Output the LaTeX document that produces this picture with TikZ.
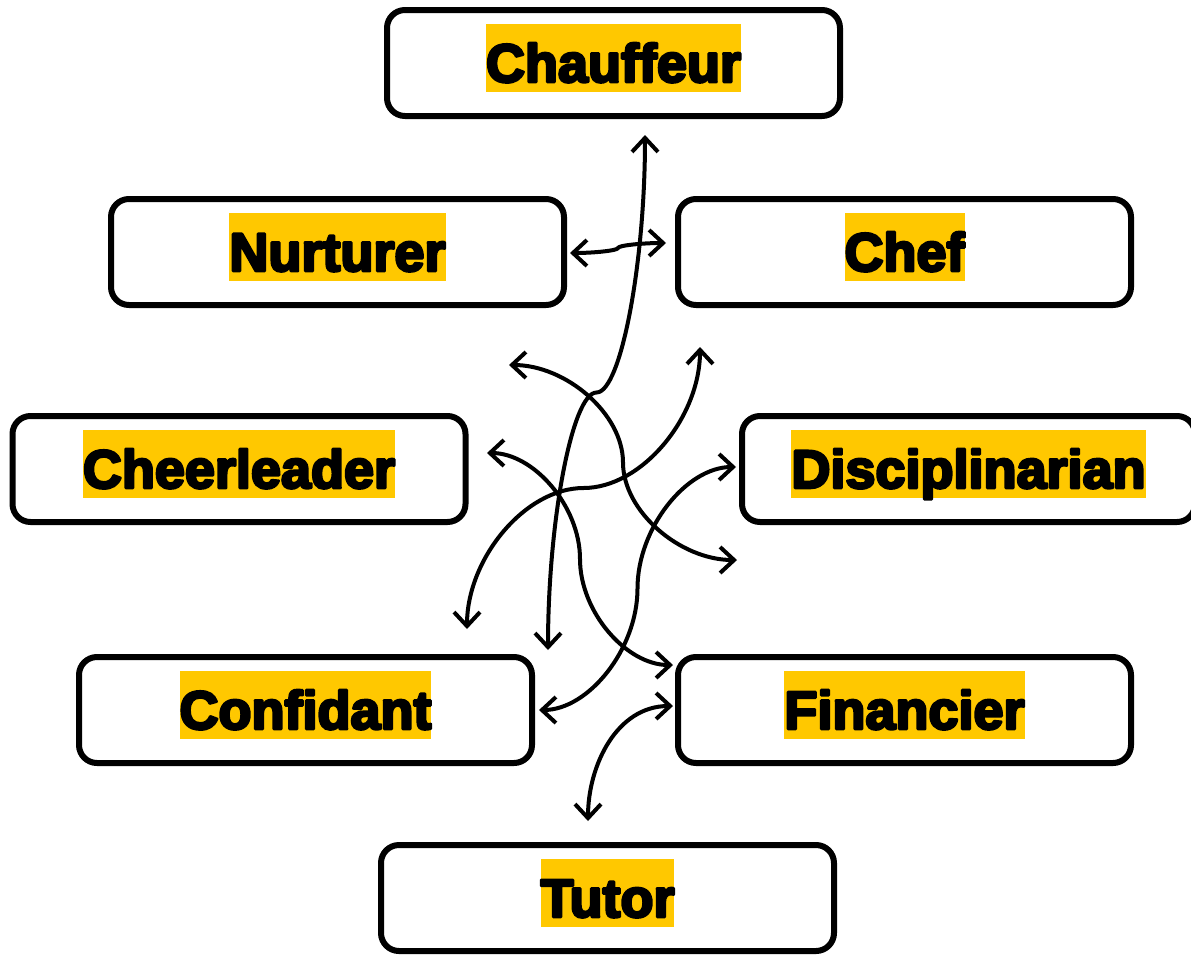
\documentclass[tikz,border=0pt]{standalone}
\usepackage{fontspec}
\usetikzlibrary{arrows.meta,calc}
\newfontfamily\heavyfont{Liberation Sans Bold}[RawFeature={embolden=5}]
\definecolor{mark}{RGB}{255,200,0}
\tikzset{
  box/.style={draw, line width=6pt, rounded corners=18pt, fill=white, minimum width=453pt, minimum height=106pt, inner sep=0pt},
  tag/.style={fill=mark, inner sep=0pt, text height=58pt, text depth=10pt, yshift=5pt, font=\heavyfont\fontsize{54}{60}\selectfont},
  link/.style={line width=4pt, <->},
  % horizontal at both ends, vertical in the middle
  hv/.style={to path={let \p1=(\tikztostart), \p2=(\tikztotarget) in
    .. controls ({0.75*\x1+0.25*\x2},\y1) and ({0.5*\x1+0.5*\x2},{0.75*\y1+0.25*\y2})
    .. ({0.5*\x1+0.5*\x2},{0.5*\y1+0.5*\y2})
    .. controls ({0.5*\x1+0.5*\x2},{0.25*\y1+0.75*\y2}) and ({0.25*\x1+0.75*\x2},\y2)
    .. (\p2)}},
  % vertical at both ends, horizontal in the middle
  vh/.style={to path={let \p1=(\tikztostart), \p2=(\tikztotarget) in
    .. controls (\x1,{0.75*\y1+0.25*\y2}) and ({0.75*\x1+0.25*\x2},{0.5*\y1+0.5*\y2})
    .. ({0.5*\x1+0.5*\x2},{0.5*\y1+0.5*\y2})
    .. controls ({0.25*\x1+0.75*\x2},{0.5*\y1+0.5*\y2}) and (\x2,{0.25*\y1+0.75*\y2})
    .. (\p2)}}
}
\begin{document}
\begin{tikzpicture}[x=1pt, y=-1pt, >={Straight Barb[length=14pt,width=26pt]}, line join=round, line cap=round]
\useasboundingbox (0,0) rectangle (1191,956);
\clip (0,0) rectangle (1191,956);
% boxes
\node[box] (chauffeur) at (613.5,63) {};
\node[box] (nurturer) at (337.5,252) {};
\node[box] (chef) at (904.5,252) {};
\node[box] (cheerleader) at (239,469) {};
\node[box] (disciplinarian) at (968.5,469) {};
\node[box] (confidant) at (305.5,710) {};
\node[box] (financier) at (904.5,710) {};
\node[box] (tutor) at (607.5,898) {};
% labels
\node[tag] (chauffeur-t) at (chauffeur) {Chauffeur};
\node[tag] (nurturer-t) at (nurturer) {Nurturer};
\node[tag] (chef-t) at (chef) {Chef};
\node[tag] (cheerleader-t) at (cheerleader) {Cheerleader};
\node[tag] (disciplinarian-t) at (disciplinarian) {Disciplinarian};
\node[tag] (confidant-t) at (confidant) {Confidant};
\node[tag] (financier-t) at (financier) {Financier};
\node[tag] (tutor-t) at (tutor) {Tutor};
% free ends
\coordinate (a1) at (645,135); \coordinate (b1) at (548,650);
\coordinate (a2) at (570,253); \coordinate (b2) at (666,243);
\coordinate (a3) at (509,365); \coordinate (b3) at (737,560);
\coordinate (a4) at (700,347); \coordinate (b4) at (467,629);
\coordinate (a5) at (487,453); \coordinate (b5) at (673,665);
\coordinate (a6) at (736,467); \coordinate (b6) at (539,710);
\coordinate (a7) at (673,706); \coordinate (b7) at (588,821);
% connectors
\draw[link] (a1) to[vh] (b1);
\draw[link] (a2) to[hv] (b2);
\draw[link] (a3) to[hv] (b3);
\draw[link] (a4) to[vh] (b4);
\draw[link] (a5) to[hv] (b5);
\draw[link] (a6) to[hv] (b6);
\draw[link] (a7) to[out=180,in=90] (b7);
\end{tikzpicture}
\end{document}
